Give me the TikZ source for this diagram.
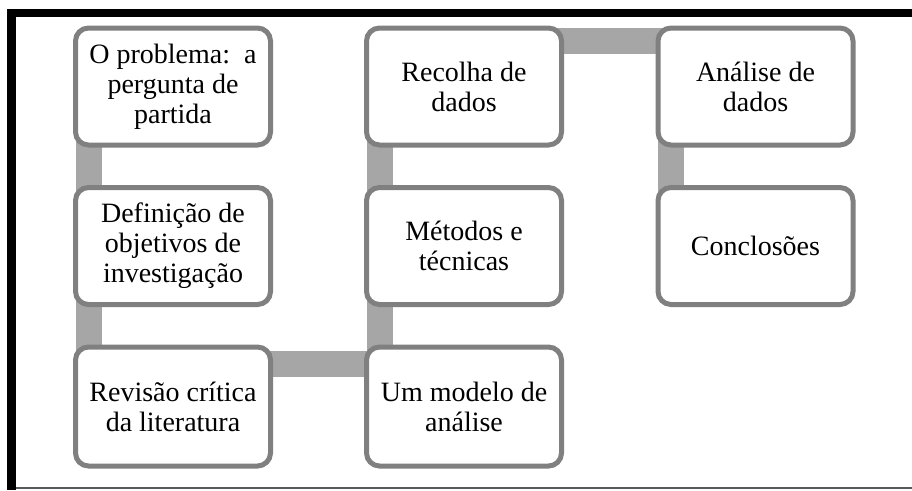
\documentclass[tikz,border=0pt]{standalone}
\usepackage{fontspec}
\setmainfont{Liberation Serif}
\usetikzlibrary{calc}
\definecolor{boxgray}{HTML}{808080}
\definecolor{conngray}{HTML}{A6A6A6}
\definecolor{linegray}{HTML}{595959}
\tikzset{
  stepbox/.style={draw=boxgray, line width=5pt, rounded corners=13pt, fill=white,
    minimum width=195pt, minimum height=117pt, outer sep=0pt, inner sep=0pt,
    align=center, font=\fontsize{28}{30}\selectfont},
  conn/.style={fill=conngray, draw=none}
}
\begin{document}
\begin{tikzpicture}[x=1pt,y=-1pt]
\useasboundingbox (0,0) rectangle (912,490);
\fill[white] (0,0) rectangle (912,490);
% frame
\fill[black] (7,9) rectangle (16,490);
\fill[black] (7,9) rectangle (912,17);
\draw[linegray, line width=1.5pt] (16,488.2) -- (912,488.2);
% node positions (coordinates only)
\coordinate (p1) at (173,86.5);
\coordinate (p2) at (173,246);
\coordinate (p3) at (173,406.5);
\coordinate (p4) at (464,406.5);
\coordinate (p5) at (464,246);
\coordinate (p6) at (464,86.5);
\coordinate (p7) at (755.5,86.5);
\coordinate (p8) at (755.5,246);
% connectors (behind boxes)
\fill[conn] (p1) ++(-97.5,0) rectangle ($(p3)+(-71.5,0)$);
\fill[conn] ($(p3)+(0,-55.5)$) rectangle ($(p4)+(0,-29.5)$);
\fill[conn] (p4) ++(-97.5,0) rectangle ($(p6)+(-71.5,0)$);
\fill[conn] ($(p6)+(0,-58.5)$) rectangle ($(p7)+(0,-32.5)$);
\fill[conn] (p7) ++(-97.5,0) rectangle ($(p8)+(-71.5,0)$);
% boxes
\node[stepbox] (b1) at (p1) {O problema:\ \ a\\pergunta de\\partida};
\node[stepbox] (b2) at (p2) {Definição de\\objetivos de\\investigação};
\node[stepbox, minimum height=119pt] (b3) at (p3) {Revisão crítica\\da literatura};
\node[stepbox, minimum height=119pt] (b4) at (p4) {Um modelo de\\análise};
\node[stepbox] (b5) at (p5) {Métodos e\\técnicas};
\node[stepbox] (b6) at (p6) {Recolha de\\dados};
\node[stepbox] (b7) at (p7) {Análise de\\dados};
\node[stepbox] (b8) at (p8) {Conclosões};
\end{tikzpicture}
\end{document}
